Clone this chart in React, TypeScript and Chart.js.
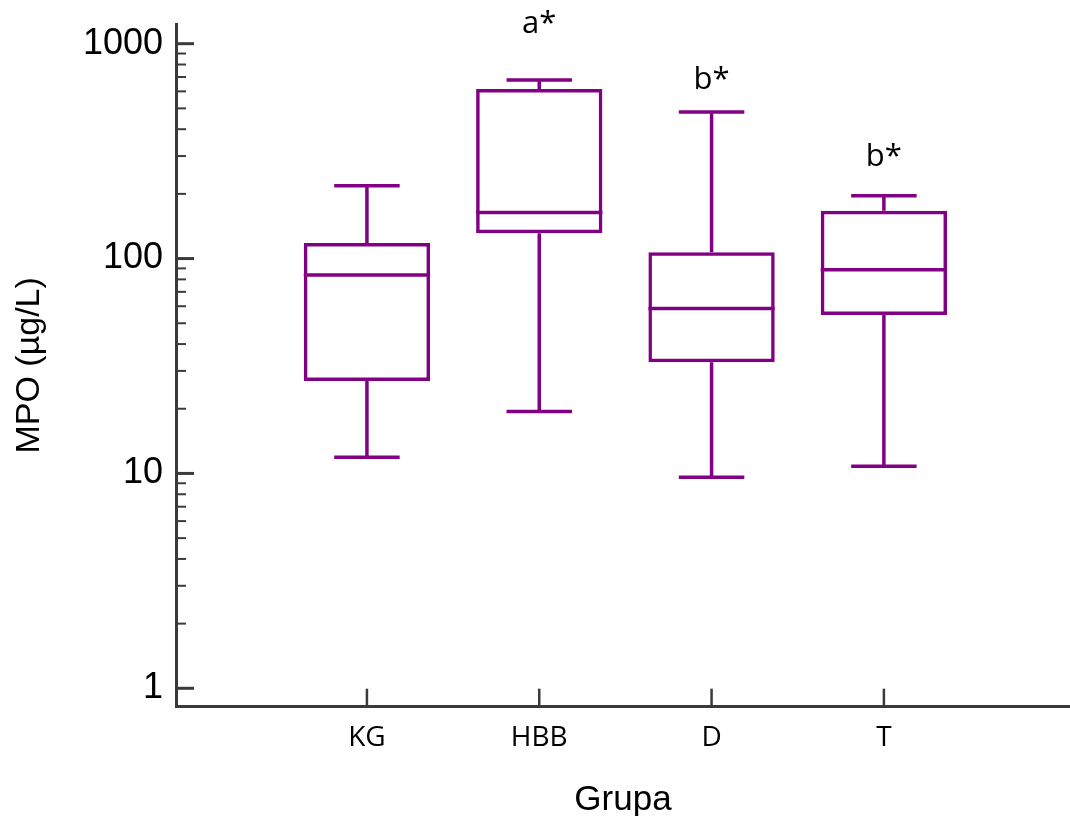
import { useEffect, useRef } from 'react';
import { Chart, registerables } from 'chart.js';

Chart.register(...registerables);

// ---- data ----
const CATEGORIES = ['KG', 'HBB', 'D', 'T'];
const MIN_VALUES = [11.9, 19.4, 9.6, 10.8];
const Q1_VALUES = [26.9, 131, 32.9, 54.6];
const MEDIAN_VALUES = [83.9, 164, 58.5, 88.8];
const Q3_VALUES = [118, 615, 107, 167];
const MAX_VALUES = [218, 678, 481, 196];
const SIG_LABELS = ['', 'a*', 'b*', 'b*'];
const SIG_LABEL_Y = [null, 1235, 678, 297];
const Y_TICKS = [
  1, 2, 3, 4, 5, 6, 7, 8, 9,
  10, 20, 30, 40, 50, 60, 70, 80, 90,
  100, 200, 300, 400, 500, 600, 700, 800, 900,
  1000,
];
const Y_MAJOR_TICKS = [1, 10, 100, 1000];

// ---- styles / layout ----
const PURPLE = '#820084';
const AXIS = '#3a3a3a';
const LINE_W = 3.5;
const BOX_HALF = 0.3665;
const CAP_HALF = 0.19;
const Y_MIN = 0.821;
const Y_MAX = 1235;
const X_MIN = -0.108;
const X_MAX = 5.08;

const tickPlugin = {
  id: 'innerTicks',
  afterDraw(chart: any) {
    const { ctx, chartArea, scales } = chart;
    const y = scales.y;
    const x = scales.x;
    ctx.save();
    ctx.strokeStyle = AXIS;
    ctx.lineCap = 'butt';
    for (const t of y.ticks) {
      const py = y.getPixelForValue(t.value);
      const major = Y_MAJOR_TICKS.includes(t.value);
      ctx.lineWidth = major ? 3 : 2;
      ctx.beginPath();
      ctx.moveTo(chartArea.left, py);
      ctx.lineTo(chartArea.left + (major ? 18 : 10), py);
      ctx.stroke();
    }
    ctx.lineWidth = 2.5;
    for (const t of x.ticks) {
      const px = x.getPixelForValue(t.value);
      ctx.beginPath();
      ctx.moveTo(px, chartArea.bottom);
      ctx.lineTo(px, chartArea.bottom - 18);
      ctx.stroke();
    }
    // significance labels
    ctx.fillStyle = '#000';
    ctx.font = '31px "Open Sans", sans-serif';
    ctx.textAlign = 'center';
    ctx.textBaseline = 'middle';
    SIG_LABELS.forEach((s, i) => {
      const v = SIG_LABEL_Y[i];
      if (!s || v == null) return;
      ctx.fillText(s, x.getPixelForValue(i + 1), y.getPixelForValue(v));
    });
    ctx.restore();
  },
};

export default function App() {
  const ref = useRef<HTMLCanvasElement>(null);

  useEffect(() => {
    const canvas = ref.current!;
    const boxes = CATEGORIES.map((_, i) => ({ x: i + 1, y: [Q1_VALUES[i], Q3_VALUES[i]] }));
    const whiskers: any[] = [];
    const caps: any[] = [];
    const medians: any[] = [];
    CATEGORIES.forEach((_, i) => {
      const c = i + 1;
      whiskers.push({ x: c, y: Q3_VALUES[i] }, { x: c, y: MAX_VALUES[i] }, { x: c, y: null });
      whiskers.push({ x: c, y: MIN_VALUES[i] }, { x: c, y: Q1_VALUES[i] }, { x: c, y: null });
      caps.push({ x: c - CAP_HALF, y: MAX_VALUES[i] }, { x: c + CAP_HALF, y: MAX_VALUES[i] }, { x: c, y: null });
      caps.push({ x: c - CAP_HALF, y: MIN_VALUES[i] }, { x: c + CAP_HALF, y: MIN_VALUES[i] }, { x: c, y: null });
      medians.push({ x: c - BOX_HALF, y: MEDIAN_VALUES[i] }, { x: c + BOX_HALF, y: MEDIAN_VALUES[i] }, { x: c, y: null });
    });

    const lineDs = (data: any[]) => ({
      type: 'line' as const,
      data,
      borderColor: PURPLE,
      borderWidth: LINE_W,
      borderCapStyle: 'butt' as const,
      pointRadius: 0,
      spanGaps: false,
      fill: false,
      tension: 0,
    });

    const chart = new Chart(canvas, {
      type: 'bar',
      data: {
        datasets: [
          {
            type: 'bar',
            data: boxes as any,
            backgroundColor: 'rgba(0,0,0,0)',
            borderColor: PURPLE,
            borderWidth: LINE_W,
            borderSkipped: false,
            categoryPercentage: 1,
            barPercentage: 0.733,
          } as any,
          lineDs(whiskers) as any,
          lineDs(caps) as any,
          lineDs(medians) as any,
        ],
      },
      options: {
        animation: false,
        responsive: false,
        events: [],
        layout: { padding: { top: 24, left: 0, right: 0, bottom: 0 } },
        plugins: { legend: { display: false }, tooltip: { enabled: false } },
        scales: {
          x: {
            type: 'linear',
            offset: false,
            min: X_MIN,
            max: X_MAX,
            afterBuildTicks: (scale: any) => {
              scale.ticks = CATEGORIES.map((_, i) => ({ value: i + 1 }));
            },
            afterFit: (scale: any) => {
              scale.height = 109.3;
              scale.paddingLeft = 0;
              scale.paddingRight = 0;
            },
            grid: { display: false, drawTicks: false },
            border: { display: true, color: AXIS, width: 3 },
            ticks: {
              autoSkip: false,
              maxRotation: 0,
              minRotation: 0,
              padding: 15,
              color: '#000',
              font: { family: '"Open Sans", sans-serif', size: 28 },
              callback: (v: any) => CATEGORIES[Math.round(Number(v)) - 1] ?? '',
            },
            title: {
              display: true,
              text: 'Grupa',
              color: '#000',
              font: { family: '"Liberation Sans", Arial, sans-serif', size: 35 },
              padding: { top: 0, bottom: -5 },
            },
          },
          y: {
            type: 'logarithmic',
            offset: false,
            min: Y_MIN,
            max: Y_MAX,
            afterBuildTicks: (scale: any) => {
              scale.ticks = Y_TICKS.map((v) => ({ value: v, major: Y_MAJOR_TICKS.includes(v) }));
            },
            afterFit: (scale: any) => {
              scale.width = 176;
              scale.paddingTop = 0;
              scale.paddingBottom = 0;
            },
            grid: { display: false, drawTicks: false },
            border: { display: true, color: AXIS, width: 3 },
            ticks: {
              autoSkip: false,
              padding: 13,
              color: '#000',
              font: { family: '"Liberation Sans", Arial, sans-serif', size: 36 },
              callback: (v: any) => (Y_MAJOR_TICKS.includes(Number(v)) ? String(v) : ''),
            },
            title: {
              display: true,
              text: 'MPO (µg/L)',
              color: '#000',
              font: { family: '"Liberation Sans", Arial, sans-serif', size: 34 },
              padding: { top: 9, bottom: 0 },
            },
          },
        },
      },
      plugins: [tickPlugin],
    });
    return () => chart.destroy();
  }, []);

  return (
    <div style={{ position: 'absolute', left: 0, top: 0, width: 1070, height: 816, background: '#fff' }}>
      <canvas ref={ref} width={1070} height={816} style={{ display: 'block', width: 1070, height: 816 }} />
    </div>
  );
}
